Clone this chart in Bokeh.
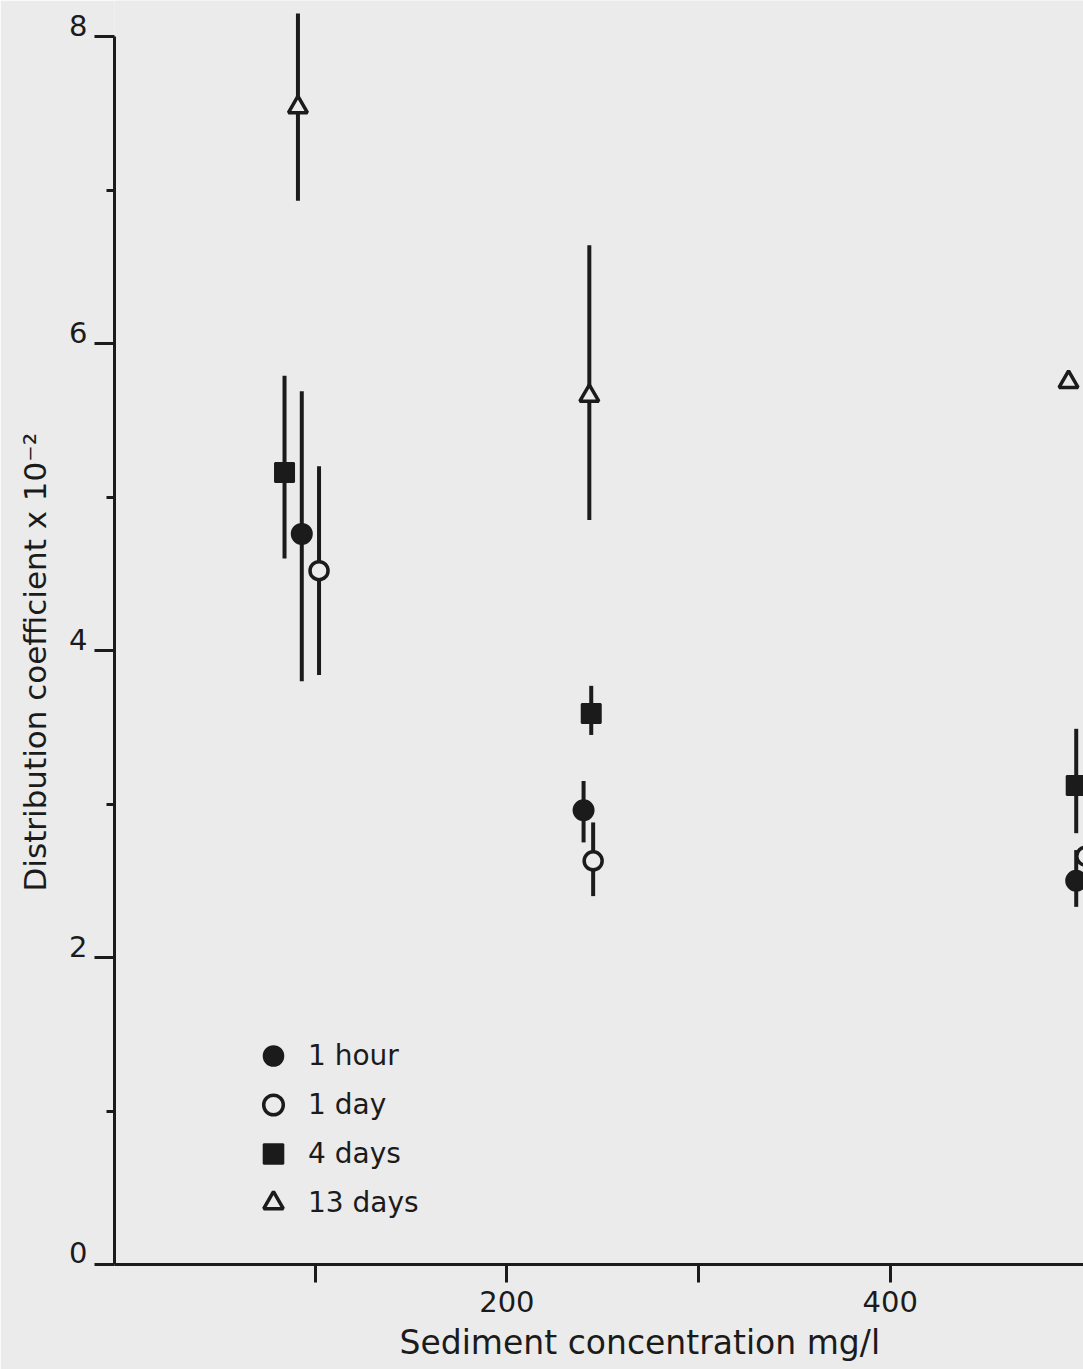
from bokeh.plotting import figure
from bokeh.models import (Range1d, FixedTicker, Legend, LegendItem, Title,
                          LinearAxis)
from bokeh.embed import file_html
from bokeh.resources import INLINE

NAN = float("nan")

# Sediment concentration (mg/l) against distribution coefficient (x 10^-2),
# with the low / high end of each spread bar.
hour1_conc = [93, 240, 497]
hour1_kd = [4.76, 2.96, 2.50]
hour1_lo = [3.80, 2.75, 2.33]
hour1_hi = [5.69, 3.15, 2.70]

day1_conc = [102, 245, 502]
day1_kd = [4.52, 2.63, 2.66]
day1_lo = [3.84, 2.40, NAN]
day1_hi = [5.20, 2.88, NAN]

day4_conc = [84, 244, 497]
day4_kd = [5.16, 3.59, 3.12]
day4_lo = [4.60, 3.45, 2.81]
day4_hi = [5.79, 3.77, 3.49]

day13_conc = [91, 243, 493]
day13_kd = [7.54, 5.66, 5.75]
day13_lo = [6.93, 4.85, NAN]
day13_hi = [8.15, 6.64, NAN]

series_names = ["1 hour", "1 day", "4 days", "13 days"]

x_ticks = [100, 200, 300, 400]
x_tick_labels = ["", "200", "", "400"]
y_ticks = [0, 2, 4, 6, 8]
y_minor_ticks = [1, 3, 5, 7]
y_tick_labels = ["0", "2", "4", "6", "8"]

x_title = "Sediment  concentration   mg/l"
y_title = "Distribution  coefficient  x  10\u207b\u00b2"

PAPER = "#ebebeb"
INK = "#1b1b1b"
FONT = "DejaVu Sans"

Y_TOP = 8.235
LABEL_LIFT = 0.075  # tick numbers sit a little above their tick marks

p = figure(
    width=1083, height=1369,
    x_range=Range1d(-4.7, 500.8), y_range=Range1d(0, Y_TOP),
    output_backend="svg", toolbar_location=None,
    min_border_left=114, min_border_right=0, min_border_top=0, min_border_bottom=105,
    background_fill_color=PAPER, border_fill_color=PAPER,
)
p.outline_line_color = None
p.grid.visible = False
p.extra_y_ranges = {"labels": Range1d(0 - LABEL_LIFT, Y_TOP - LABEL_LIFT)}

# x axis
xa = p.xaxis[0]
xa.ticker = FixedTicker(ticks=x_ticks, minor_ticks=[])
xa.major_label_overrides = {t: lab for t, lab in zip(x_ticks, x_tick_labels)}
xa.axis_line_width = 3
xa.axis_line_color = INK
xa.major_tick_in = 0
xa.major_tick_out = 18
xa.major_tick_line_width = 3
xa.major_tick_line_color = INK
xa.minor_tick_line_color = None
xa.major_label_text_font = FONT
xa.major_label_text_font_size = "29px"
xa.major_label_text_color = INK
xa.major_label_standoff = 8

# y axis: line and tick marks
ya = p.yaxis[0]
ya.ticker = FixedTicker(ticks=y_ticks, minor_ticks=y_minor_ticks)
ya.bounds = (y_ticks[0], y_ticks[-1])
ya.major_label_overrides = {t: "" for t in y_ticks}
ya.major_label_standoff = 0
ya.axis_line_width = 3
ya.axis_line_color = INK
ya.major_tick_in = 0
ya.major_tick_out = 20
ya.major_tick_line_width = 3
ya.major_tick_line_color = INK
ya.minor_tick_in = 0
ya.minor_tick_out = 8
ya.minor_tick_line_width = 3
ya.minor_tick_line_color = INK

# y axis: the tick numbers
yl = LinearAxis(y_range_name="labels", ticker=FixedTicker(ticks=y_ticks, minor_ticks=[]))
yl.major_label_overrides = {t: lab for t, lab in zip(y_ticks, y_tick_labels)}
yl.axis_line_color = None
yl.major_tick_line_color = None
yl.minor_tick_line_color = None
yl.major_tick_in = 0
yl.major_tick_out = 0
yl.major_label_standoff = 7
yl.major_label_text_font = FONT
yl.major_label_text_font_size = "29px"
yl.major_label_text_color = INK
p.add_layout(yl, "left")

# axis titles
p.add_layout(Title(
    text=x_title, align="left", offset=285, standoff=13,
    text_font=FONT, text_font_size="33px", text_font_style="normal", text_color=INK,
), "below")
p.add_layout(Title(
    text=y_title, align="left", offset=373, standoff=28,
    text_font=FONT, text_font_size="31px", text_font_style="normal", text_color=INK,
), "left")

# spread bars
for conc, lo, hi in [
    (hour1_conc, hour1_lo, hour1_hi),
    (day1_conc, day1_lo, day1_hi),
    (day4_conc, day4_lo, day4_hi),
    (day13_conc, day13_lo, day13_hi),
]:
    p.segment(x0=conc, y0=lo, x1=conc, y1=hi, line_width=4, line_color=INK)

# markers
r_h1 = p.scatter(hour1_conc, hour1_kd, marker="circle", size=20,
                 fill_color=INK, line_color=INK, line_width=2)
r_d1 = p.scatter(day1_conc, day1_kd, marker="circle", size=18,
                 fill_color=PAPER, line_color=INK, line_width=3.5)
r_d4 = p.scatter(day4_conc, day4_kd, marker="square", size=19,
                 fill_color=INK, line_color=INK, line_width=2)
r_d13 = p.scatter(day13_conc, day13_kd, marker="triangle", size=19,
                  fill_color=PAPER, line_color=INK, line_width=3.5)

legend = Legend(
    items=[LegendItem(label=n, renderers=[r]) for n, r in
           zip(series_names, [r_h1, r_d1, r_d4, r_d13])],
    location=(134, 37), orientation="vertical",
    background_fill_alpha=0, border_line_alpha=0,
    padding=0, margin=0, spacing=0,
    glyph_width=50, glyph_height=49, label_standoff=10,
    label_text_font=FONT, label_text_font_size="28px", label_text_color=INK,
)
p.add_layout(legend, "center")

with open("out.html", "w") as f:
    f.write(file_html(p, INLINE))
